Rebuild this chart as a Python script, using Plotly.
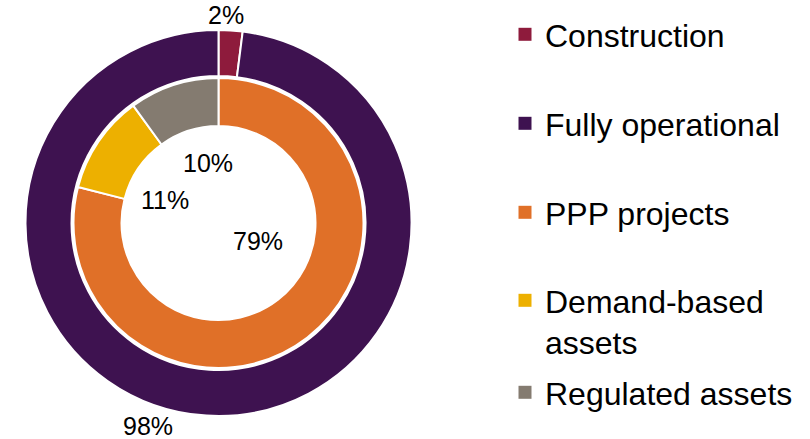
import plotly.graph_objects as go

# ---- data ----
outer_labels = ["Construction", "Fully operational"]
outer_values = [2, 98]
inner_labels = ["PPP projects", "Demand-based<br>assets", "Regulated assets"]
inner_values = [79, 11, 10]

# ---- styles ----
outer_colors = ["#8E1B3C", "#3E1250"]
inner_colors = ["#E07028", "#EDB000", "#847B70"]
W, H = 810, 439
FONT = "Arial, Liberation Sans, sans-serif"

# percentage label pixel positions (layout only)
outer_label_pos = [(226, 15), (148, 426)]
inner_label_pos = [(258, 241), (165, 200), (208, 163)]
# legend item pixel positions (symbol centre x, first-line centre y)
legend_pos = [(525, 34), (525, 123), (525, 212), (525, 300), (525, 392)]

cx, cy = 218.5, 223
r_out, r_mid_out, r_mid_in, r_in = 193, 147, 145, 97


def dom(r):
    return dict(x=[(cx - r) / W, (cx + r) / W], y=[1 - (cy + r) / H, 1 - (cy - r) / H])


fig = go.Figure()
fig.add_trace(go.Pie(
    labels=outer_labels, values=outer_values, sort=False, direction="clockwise",
    rotation=0, hole=r_mid_out / r_out, domain=dom(r_out),
    marker=dict(colors=outer_colors, line=dict(color="white", width=2)),
    textinfo="none", showlegend=False, hoverinfo="label+percent",
))
fig.add_trace(go.Pie(
    labels=inner_labels, values=inner_values, sort=False, direction="clockwise",
    rotation=0, hole=r_in / r_mid_in, domain=dom(r_mid_in),
    marker=dict(colors=inner_colors, line=dict(color="white", width=2)),
    textinfo="none", showlegend=False, hoverinfo="label+percent",
))

annotations = []
for vals, poss in ((outer_values, outer_label_pos), (inner_values, inner_label_pos)):
    for v, (px, py) in zip(vals, poss):
        annotations.append(dict(
            x=px / W, y=1 - py / H, xref="paper", yref="paper", text=f"{v}%",
            showarrow=False, font=dict(family=FONT, size=25, color="#000000"),
            xanchor="center", yanchor="middle",
        ))

all_labels = outer_labels + inner_labels
all_colors = outer_colors + inner_colors
legends = {}
for i, (lab, col) in enumerate(zip(all_labels, all_colors)):
    key = "legend" if i == 0 else f"legend{i + 1}"
    fig.add_trace(go.Scatter(
        x=[None], y=[None], mode="markers", name=lab,
        marker=dict(symbol="square", size=13, color=col),
        legend=key, showlegend=True, hoverinfo="skip",
    ))
    px, py = legend_pos[i]
    legends[key] = dict(
        x=(px - 20) / W, y=1 - (py - 27) / H, xanchor="left", yanchor="top",
        font=dict(family=FONT, size=32, color="#000000"),
        bgcolor="rgba(0,0,0,0)", borderwidth=0, valign="top",
        itemsizing="trace",
    )

fig.update_layout(
    width=W, height=H,
    margin=dict(l=0, r=0, t=0, b=0),
    paper_bgcolor="white", plot_bgcolor="white",
    xaxis=dict(visible=False), yaxis=dict(visible=False),
    annotations=annotations,
    **legends,
)

fig.write_html("out.html", config={"displayModeBar": False},
               post_script="document.body.style.margin='0';")
